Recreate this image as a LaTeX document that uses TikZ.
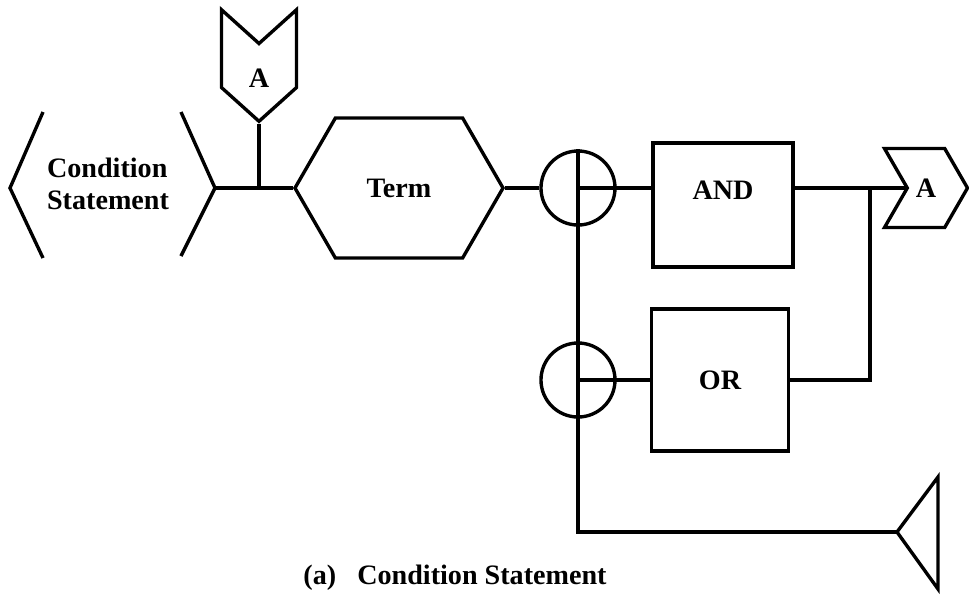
\documentclass[tikz,border=0pt]{standalone}
\usepackage{graphicx, amsmath, amssymb}
\usepackage{fontspec}
\setmainfont{Liberation Serif}
\usetikzlibrary{shapes.symbols}

\begin{document}
\begin{tikzpicture}[x=0.025cm, y=-0.025cm, line width=2.4pt,
        every node/.style={font=\fontsize{20}{23}\selectfont\bfseries},
        box/.style={rectangle, draw, inner sep=0pt},
        joint/.style={circle, draw, minimum size=1.85cm, inner sep=0pt},
        flag/.style={signal, draw, inner sep=0pt, signal pointer angle=120}]
        \useasboundingbox (0,0) rectangle (969,595);

        % Draw nodes
        \node[align=left] (cs) at (108,184) {Condition\\Statement};
        \coordinate (csl) at (10,188);
        \coordinate (csr) at (215,188);
        \coordinate (tj) at (259,188);
        \node[flag, signal from=north, signal to=south, signal pointer angle=96,
              minimum width=1.875cm, minimum height=1.1cm,
              label={[yshift=-0.33cm]center:A}] (ta) at (259,65.5) {};
        \node[flag, signal to=east and west, minimum width=5.2cm, minimum height=3.5cm] (term) at (399,188) {Term};
        \node[joint] (j1) at (578,188) {};
        \node[box, minimum width=3.5cm, minimum height=3.1cm,
              label={[yshift=0.37cm]center:AND}] (and) at (723,205) {};
        \node[joint] (j2) at (578,380) {};
        \node[box, minimum width=3.425cm, minimum height=3.55cm] (or) at (720,380) {OR};
        \coordinate (merge) at (870,188);
        \node[flag, signal from=west, signal to=east,
              minimum width=2.075cm, minimum height=1.975cm] (ra) at (926,188) {A};
        \coordinate (tri) at (897,532);

        % Draw brackets
        \draw (csl) ++(33,-76) -- (csl) -- ++(33,70);
        \draw (csr) ++(-34,-76) -- (csr) -- ++(-34,68);
        \draw (tri) -- ++(41,-55) -- ++(0,112) -- cycle;

        % Draw connections
        \draw (csr) -- (term.west);
        \draw (ta.south) -- (tj);
        \draw (term.east) -- (j1.west);
        \draw (j1.center) -- (j1.center -| and.west);
        \draw (j2.center) -- (or.west);
        \draw (j1.north) -- (j1.north |- tri) -- (tri);
        \draw (and.east |- merge) -- (ra.west);
        \draw (or.east) -| (merge);

        % Caption
        \node (cap) at (455,578) {(a)\ \ \ Condition Statement};
    \end{tikzpicture}
\end{document}
